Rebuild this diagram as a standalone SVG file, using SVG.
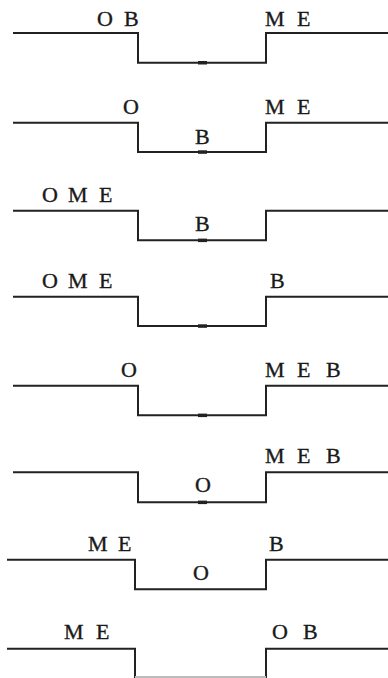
<svg xmlns="http://www.w3.org/2000/svg" width="388" height="678" viewBox="0 0 388 678">
<style>
.ln{fill:none;stroke:#222;stroke-width:2;stroke-linejoin:miter}
.mk{fill:#222}
.lb{font-family:"Liberation Serif","DejaVu Serif",serif;font-size:22px;fill:#1a1a1a;stroke:#1a1a1a;stroke-width:0.35}
</style>
<rect width="388" height="678" fill="#fff"/>
<g id="connectors">
<path class="ln" d="M13,33H138V62.7H266V33H388"/>
<path class="ln" d="M13,122.7H138V152H266V122.7H388"/>
<path class="ln" d="M13,210.7H138V240.3H266V210.7H388"/>
<path class="ln" d="M13,296.7H138V326H266V296.7H388"/>
<path class="ln" d="M13,385.7H138V415.3H266V385.7H388"/>
<path class="ln" d="M13,472.3H138V502.3H266V472.3H388"/>
<path class="ln" d="M7,559.7H135V589.3H266V559.7H388"/>
<path class="ln" d="M7,648.7H135V677H266V648.7H388"/>
<path d="M135,677H266" stroke="#bbb" stroke-width="2" fill="none"/>
</g>
<g id="marks">
<rect class="mk" x="198" y="61" width="9" height="3.5"/>
<rect class="mk" x="198" y="150.3" width="9" height="3.5"/>
<rect class="mk" x="198" y="238.6" width="9" height="3.5"/>
<rect class="mk" x="198" y="324.3" width="9" height="3.5"/>
<rect class="mk" x="198" y="413.6" width="9" height="3.5"/>
<rect class="mk" x="198" y="500.6" width="9" height="3.5"/>
</g>
<g id="panel1">
<text class="lb" y="26"><tspan x="97">O</tspan><tspan x="124">B</tspan></text>
<text class="lb" y="26"><tspan x="265">M</tspan><tspan x="297">E</tspan></text>
</g>
<g id="panel2">
<text class="lb" x="123" y="114.3">O</text>
<text class="lb" x="195" y="143.7">B</text>
<text class="lb" y="114.3"><tspan x="265">M</tspan><tspan x="297">E</tspan></text>
</g>
<g id="panel3">
<text class="lb" y="202.3"><tspan x="42">O</tspan><tspan x="68">M</tspan><tspan x="99">E</tspan></text>
<text class="lb" x="195" y="231">B</text>
</g>
<g id="panel4">
<text class="lb" y="288.3"><tspan x="42">O</tspan><tspan x="68">M</tspan><tspan x="99">E</tspan></text>
<text class="lb" x="270" y="288.3">B</text>
</g>
<g id="panel5">
<text class="lb" x="121" y="376.7">O</text>
<text class="lb" y="376.7"><tspan x="265">M</tspan><tspan x="297">E</tspan><tspan x="326">B</tspan></text>
</g>
<g id="panel6">
<text class="lb" y="463.3"><tspan x="265">M</tspan><tspan x="297">E</tspan><tspan x="326">B</tspan></text>
<text class="lb" x="195" y="491.7">O</text>
</g>
<g id="panel7">
<text class="lb" y="551"><tspan x="88">M</tspan><tspan x="118">E</tspan></text>
<text class="lb" x="269" y="551">B</text>
<text class="lb" x="193" y="580">O</text>
</g>
<g id="panel8">
<text class="lb" y="639.3"><tspan x="64">M</tspan><tspan x="96">E</tspan></text>
<text class="lb" y="639.3"><tspan x="272">O</tspan><tspan x="303">B</tspan></text>
</g>
</svg>
